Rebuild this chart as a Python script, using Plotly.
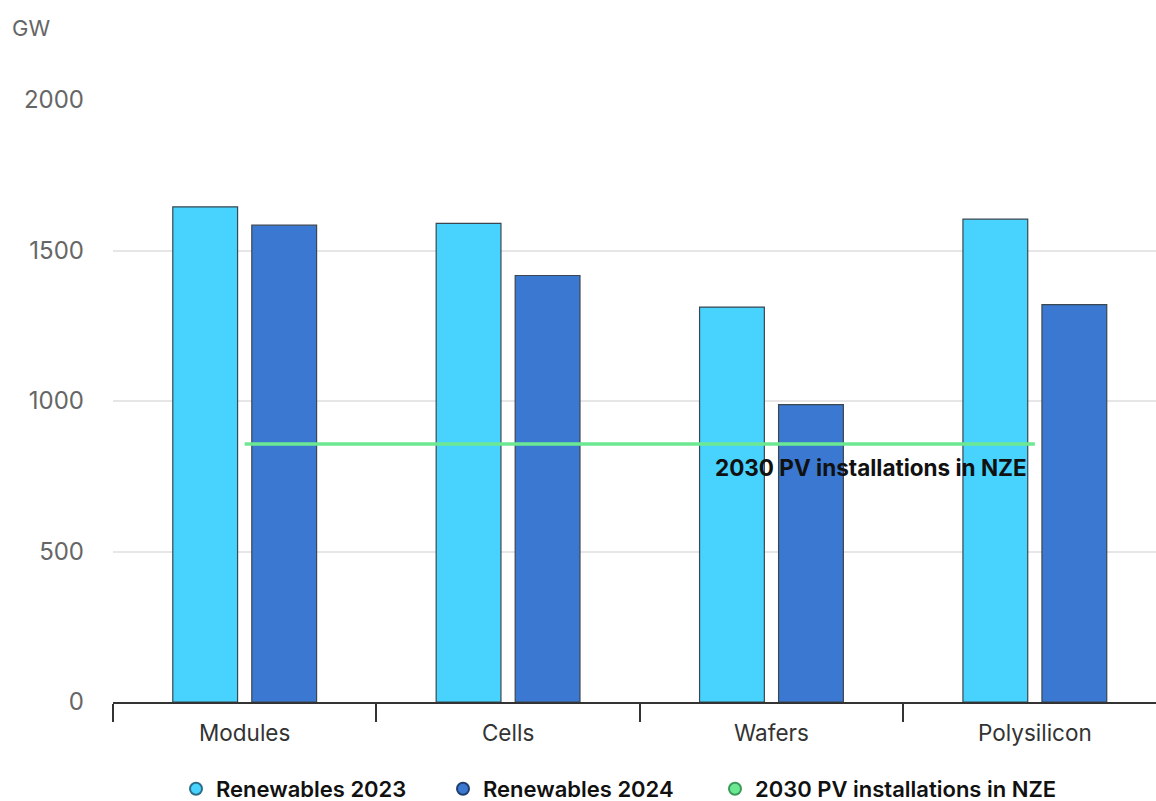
import plotly.graph_objects as go

categories = ["Modules", "Cells", "Wafers", "Polysilicon"]
renewables_2023 = [1645, 1590, 1312, 1604]
renewables_2024 = [1584, 1417, 988, 1320]
nze_2030 = 857
nze_label = "2030 PV installations in NZE"

c2023 = "#48D3FF"
c2024 = "#3B78D2"
cnze = "#6DE892"
edge = "#3A4650"
font_family = "Inter, 'Open Sans', sans-serif"

fig = go.Figure()

fig.add_trace(go.Bar(
    x=categories, y=renewables_2023, name="Renewables 2023",
    marker=dict(color=c2023, line=dict(color=edge, width=1.2)),
    showlegend=False,
))
fig.add_trace(go.Bar(
    x=categories, y=renewables_2024, name="Renewables 2024",
    marker=dict(color=c2024, line=dict(color=edge, width=1.2)),
    showlegend=False,
))
fig.add_trace(go.Scatter(
    x=categories, y=[nze_2030] * len(categories), mode="lines",
    name=nze_label, line=dict(color=cnze, width=3.5), showlegend=False,
))

# circular legend keys, one legend box per entry
legend_keys = [
    ("Renewables 2023", c2023, "#2A6F86", "legend", 176),
    ("Renewables 2024", c2024, "#203F6E", "legend2", 443),
    (nze_label, cnze, "#3A9A5A", "legend3", 715),
]
for name, col, outline, lg, _ in legend_keys:
    fig.add_trace(go.Scatter(
        x=[None], y=[None], mode="markers", name=name, legend=lg,
        marker=dict(symbol="circle", size=15, color=col,
                    line=dict(color=outline, width=1.5)),
    ))

legend_style = dict(
    orientation="h", xanchor="left", y=(702 - 789) / 602, yanchor="middle",
    font=dict(family=font_family, size=22, color="#111111", weight=600),
    itemsizing="constant", bgcolor="rgba(0,0,0,0)",
)
legend_layout = {}
for _, _, _, lg, px in legend_keys:
    legend_layout[lg] = dict(legend_style, x=(px - 113) / 1043)

fig.add_annotation(
    x="Polysilicon", y=nze_2030, xref="x", yref="y",
    text=f"<b>{nze_label}</b>", showarrow=False,
    xanchor="right", yanchor="top", xshift=-6, yshift=-8,
    font=dict(family=font_family, size=22.5, color="#111111"),
)

fig.add_annotation(
    x=-103 / 1043, y=(702 - 28) / 602, xref="paper", yref="paper",
    text="GW", showarrow=False, xanchor="left", yanchor="middle",
    font=dict(family=font_family, size=22, color="#666666"),
)

fig.update_layout(
    width=1156, height=801,
    margin=dict(l=113, r=0, t=100, b=99, autoexpand=False),
    paper_bgcolor="white", plot_bgcolor="white",
    barmode="group", bargap=0.40, bargroupgap=0.18,
    font=dict(family=font_family, size=20, color="#444444"),
    showlegend=True,
    **legend_layout,
    xaxis=dict(
        range=[-0.5, 3.46], showgrid=False, zeroline=False,
        showline=True, linecolor="#333333", linewidth=2,
        ticks="outside", tickson="boundaries", ticklen=18, tickwidth=2,
        tickcolor="#333333", ticklabelstandoff=10,
        tickfont=dict(family=font_family, size=22.5, color="#333333"),
    ),
    yaxis=dict(
        range=[0, 2000], tickvals=[0, 500, 1000, 1500, 2000],
        showgrid=True, gridcolor="#E6E6E6", gridwidth=1.5, zeroline=False,
        showline=False, ticks="", ticklabelstandoff=28,
        tickfont=dict(family=font_family, size=24, color="#666666"),
    ),
)

fig.write_html("out.html")
